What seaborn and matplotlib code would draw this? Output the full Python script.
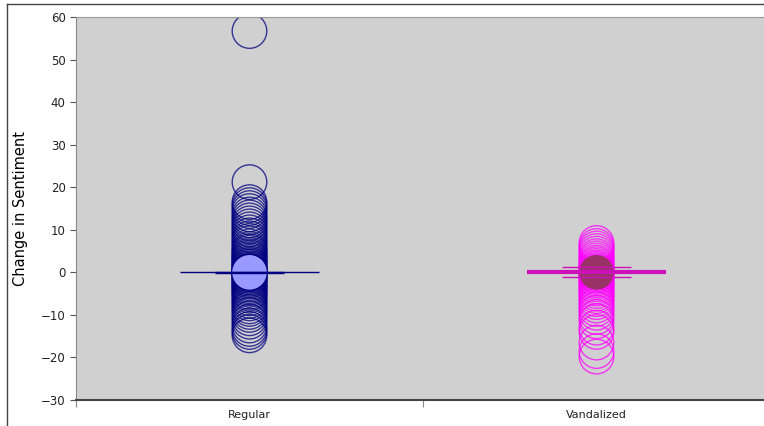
import numpy as np
import pandas as pd
import seaborn as sns
import matplotlib.pyplot as plt
from matplotlib.lines import Line2D

# Data
groups = ["Regular", "Vandalized"]
regular_change = [56.7, 21.2, 16.5, 15.8, 15.1, 14.4, 13.6, 12.9, 12.2, 11.5, 10.8,
                  10.1, 9.4, 8.7, 8.0, 7.4, 6.8, 6.1, 5.5, 5.0, 4.6, 4.1, 3.7, 3.3,
                  2.9, 2.5, 2.1, 1.8, 1.5, 1.2, 0.9, 0.6, 0.4, 0.2, 0.1, 0.0, 0.0,
                  -0.1, -0.2, -0.4, -0.6, -0.9, -1.2, -1.5, -1.8, -2.1, -2.5, -2.9,
                  -3.3, -3.7, -4.1, -4.6, -5.0, -5.5, -6.1, -6.7, -7.3, -8.0, -8.6,
                  -9.3, -10.0, -10.8, -11.6, -12.5, -13.3, -14.0, -14.8]
vandal_change = [6.9, 6.2, 5.6, 5.0, 4.4, 3.8, 3.3, 2.8, 2.3, 1.9, 1.5, 1.1, 0.8,
                 0.5, 0.2, 0.0, -0.2, -0.5, -0.8, -1.1, -1.5, -1.9, -2.3, -2.8,
                 -3.3, -3.8, -4.4, -5.0, -5.6, -6.3, -7.0, -7.8, -8.6, -9.5, -10.5,
                 -11.5, -13.0, -14.0, -16.5, -18.5, -19.8]
group_means = [0.0, 0.0]
group_err = [0.1, 1.2]

xpos = {"Regular": 0.5, "Vandalized": 1.5}
edge_colors = {"Regular": "#000080", "Vandalized": "#ff00ff"}
mean_colors = {"Regular": "#9999ff", "Vandalized": "#993366"}
line_colors = {"Regular": "#000080", "Vandalized": "#cc11bb"}
mean_lw = {"Regular": 1.0, "Vandalized": 3.0}

df = pd.DataFrame({
    "group": ["Regular"] * len(regular_change) + ["Vandalized"] * len(vandal_change),
    "change": regular_change + vandal_change,
})
df["pos"] = df["group"].map(xpos)
means = pd.DataFrame({"group": groups, "mean": group_means, "err": group_err})
means["pos"] = means["group"].map(xpos)

fig = plt.figure(figsize=(7.64, 4.26), dpi=100)
ax = fig.add_axes([76 / 764, 26 / 426, 694 / 764, 383 / 426])
ax.set_facecolor("#d0d0d0")

# -------------------- open circles --------------------
for g in groups:
    sub = df[df["group"] == g]
    sns.scatterplot(data=sub, x="pos", y="change", ax=ax, s=620,
                    facecolor="none", edgecolor=edge_colors[g],
                    linewidth=1, alpha=0.75, zorder=2, legend=False)

# -------------------- mean marker + lines --------------------
for _, row in means.iterrows():
    g = row["group"]
    ax.scatter(row["pos"], row["mean"], s=620, color=mean_colors[g],
               edgecolor="none", zorder=3)
    ax.hlines(row["mean"], row["pos"] - 0.2, row["pos"] + 0.2,
              color=line_colors[g], lw=mean_lw[g], zorder=4)
    ax.hlines([row["mean"] - row["err"], row["mean"] + row["err"]],
              row["pos"] - 0.1, row["pos"] + 0.1,
              color=line_colors[g], lw=1, zorder=4)
    ax.vlines(row["pos"], row["mean"] - row["err"], row["mean"] + row["err"],
              color=line_colors[g], lw=0.8, alpha=0.6, zorder=4)

ax.set_xlim(0, 2)
ax.set_ylim(-30, 60)
ax.set_yticks(np.arange(-30, 61, 10))
ax.set_xticks([0, 1, 2])
ax.set_xticklabels([])
ax.set_xticks([0.5, 1.5], minor=True)
ax.set_xticklabels(groups, minor=True, fontsize=8, color="#222222")
ax.tick_params(axis="x", which="minor", length=0, pad=7)
ax.tick_params(axis="x", which="major", length=5, color="#888888")
ax.tick_params(axis="y", length=4, color="#555555", labelsize=8.5, labelcolor="#222222")
ax.set_xlabel("")
ax.set_ylabel("Change in Sentiment", fontsize=10.5, labelpad=9)

ax.spines["top"].set_color("#999999")
ax.spines["bottom"].set_color("#444444")
ax.spines["bottom"].set_linewidth(1.5)
ax.spines["left"].set_color("#888888")
ax.spines["right"].set_visible(False)

# screenshot border
fig.add_artist(Line2D([7 / 764, 1], [1 - 4 / 426, 1 - 4 / 426],
                      transform=fig.transFigure, color="#444444", lw=1))
fig.add_artist(Line2D([7 / 764, 7 / 764], [0, 1 - 4 / 426],
                      transform=fig.transFigure, color="#444444", lw=1))

fig.savefig("out.png", dpi=100)
